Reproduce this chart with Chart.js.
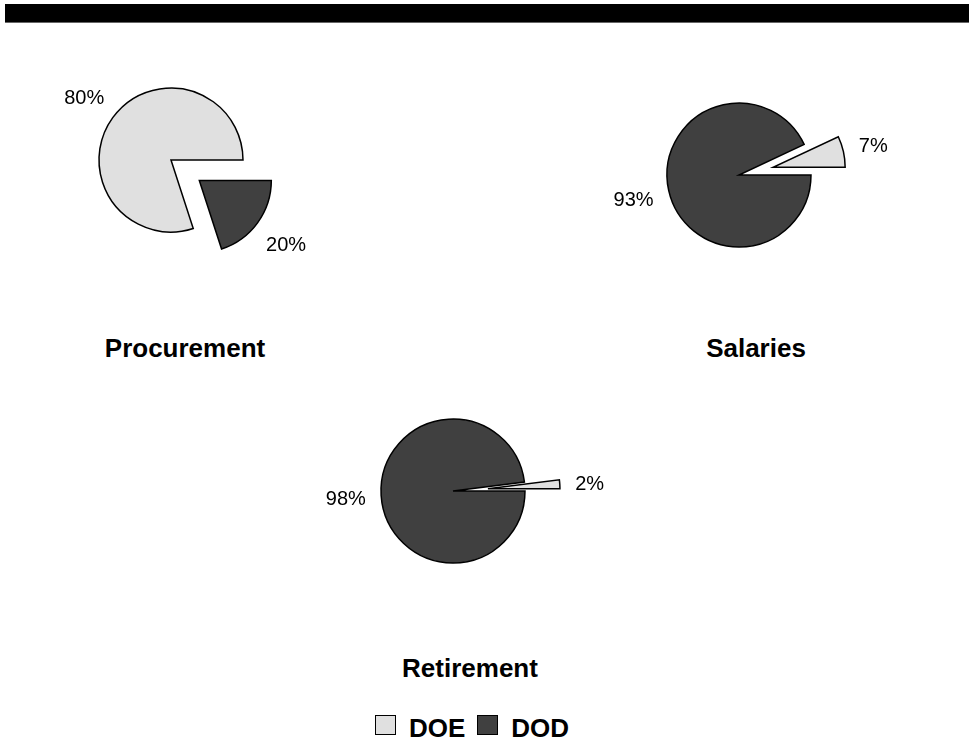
<!DOCTYPE html>
<html>
<head>
<meta charset="utf-8">
<title>DOE vs DOD</title>
<script src="https://cdn.jsdelivr.net/npm/chart.js@4/dist/chart.umd.min.js"></script>
<style>
  body { margin: 0; background: #fff; }
  #page { position: relative; width: 969px; height: 742px; overflow: hidden; font-family: 'Liberation Sans', Arial, sans-serif; }
  #topBar { position: absolute; left: 5px; top: 4px; width: 964px; height: 18px; background: #000; border-bottom: 1px solid #666; }
  canvas { position: absolute; }
  .pieTitle { position: absolute; width: 300px; text-align: center; font-weight: bold; font-size: 26px; line-height: 26px; color: #000; }
  #legend { position: absolute; left: 375px; top: 715px; display: flex; font-weight: bold; font-size: 26px; line-height: 26px; color: #000; }
  .swatch { width: 19px; height: 18px; border: 1px solid #000; }
  .legendText { margin: 0 12px 0 13px; }
</style>
</head>
<body>
<div id="page">
  <div id="topBar"></div>
  <div id="legend"></div>
</div>
<script>
const seriesLabels = ['DOE', 'DOD'];
const chartTitles = ['Procurement', 'Salaries', 'Retirement'];
const doeShare = [80, 7, 2];
const dodShare = [20, 93, 98];

const sliceColors = ['#e0e0e0', '#404040'];

// where each pie sits on the page, and which slice is pulled out
const pieBoxes = [
  { left: 1, top: 10, titleX: 185, titleTop: 335, explode: 1 },
  { left: 569, top: 25, titleX: 756, titleTop: 335, explode: 0 },
  { left: 283, top: 341, titleX: 470, titleTop: 655, explode: 0 }
];
const explodeDistance = 35;

const page = document.getElementById('page');

const explodedPie = {
  id: 'explodedPie',
  afterDatasetUpdate(chart, args) {
    // chart.js' own offset also narrows thin slices, so move the slice instead
    const pull = chart.data.datasets[0].explode || [];
    args.meta.data.forEach((arc, i) => {
      const d = pull[i] || 0;
      const mid = (arc.startAngle + arc.endAngle) / 2;
      arc.x += Math.cos(mid) * d;
      arc.y += Math.sin(mid) * d;
    });
  },
  afterDatasetsDraw(chart) {
    const ctx = chart.ctx;
    const meta = chart.getDatasetMeta(0);
    const values = chart.data.datasets[0].data;
    ctx.save();
    ctx.font = '20px "Liberation Sans", Arial, sans-serif';
    ctx.fillStyle = '#000';
    ctx.textAlign = 'center';
    ctx.textBaseline = 'middle';
    meta.data.forEach((arc, i) => {
      const mid = (arc.startAngle + arc.endAngle) / 2;
      const cos = Math.cos(mid), sin = Math.sin(mid);
      const text = values[i] + '%';
      const w = ctx.measureText(text).width;
      const d = arc.outerRadius + 15 + Math.abs(cos) * w / 2 + Math.abs(sin) * 7;
      ctx.fillText(text, arc.x + cos * d, arc.y + sin * d + 2);
    });
    ctx.restore();
  }
};

chartTitles.forEach((title, i) => {
  const box = pieBoxes[i];
  const values = [doeShare[i], dodShare[i]];

  const canvas = document.createElement('canvas');
  canvas.width = 340;
  canvas.height = 300;
  canvas.style.left = box.left + 'px';
  canvas.style.top = box.top + 'px';
  page.appendChild(canvas);

  // small slice always touches 3 o'clock
  const rotation = box.explode === 0 ? 90 - values[0] * 3.6 : 90 + values[1] * 3.6;

  new Chart(canvas.getContext('2d'), {
    type: 'pie',
    data: {
      labels: seriesLabels,
      datasets: [{
        data: values,
        backgroundColor: sliceColors,
        borderColor: '#000',
        borderWidth: 1.5,
        borderJoinStyle: 'miter',
        explode: values.map((v, j) => j === box.explode ? explodeDistance : 0)
      }]
    },
    options: {
      responsive: false,
      animation: false,
      events: [],
      radius: 72,
      rotation: rotation,
      plugins: {
        legend: { display: false },
        tooltip: { enabled: false }
      }
    },
    plugins: [explodedPie]
  });

  const label = document.createElement('div');
  label.className = 'pieTitle';
  label.textContent = title;
  label.style.left = (box.titleX - 150) + 'px';
  label.style.top = box.titleTop + 'px';
  page.appendChild(label);
});

const legend = document.getElementById('legend');
seriesLabels.forEach((name, i) => {
  const swatch = document.createElement('div');
  swatch.className = 'swatch';
  swatch.style.background = sliceColors[i];
  const text = document.createElement('div');
  text.className = 'legendText';
  text.textContent = name;
  legend.appendChild(swatch);
  legend.appendChild(text);
});
</script>
</body>
</html>
